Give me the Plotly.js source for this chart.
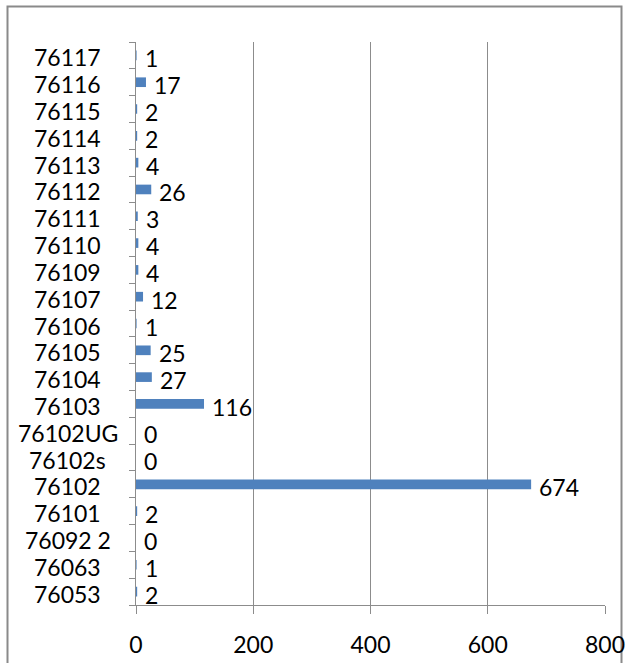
<!DOCTYPE html>
<html>
<head>
<meta charset="utf-8">
<script src="https://cdn.plot.ly/plotly-3.0.1.min.js"></script>
<style>html,body{margin:0;padding:0;background:#fff;}#chart{width:635px;height:663px;}</style>
</head>
<body>
<div id="chart"></div>
<script>
// Categories listed bottom to top (as on the axis)
var categories = ["76053","76063","76092 2","76101","76102","76102s","76102UG","76103","76104","76105","76106","76107","76109","76110","76111","76112","76113","76114","76115","76116","76117"];
var counts = [2,1,0,2,674,0,0,116,27,25,1,12,4,4,3,26,4,2,2,17,1];
var xTicks = [0,200,400,600,800];

var FONT = "Lato, 'Open Sans', sans-serif";
var FS = 23;
var gray = "#8c8c8c";

var trace = {
  type: "bar",
  orientation: "h",
  y: categories,
  x: counts,
  width: 0.36,
  marker: {color: "#4F81BD"},
  hoverinfo: "x+y"
};

var annotations = [];
categories.forEach(function(c, i){
  // on a category axis, annotation positions are category indices
  annotations.push({
    x: counts[i], y: i, xref: "x", yref: "y",
    text: String(counts[i]), showarrow: false,
    xanchor: "left", yanchor: "middle", xshift: 6, yshift: -3,
    font: {family: FONT, size: FS, color: "#000"}
  });
  annotations.push({
    x: -0.145, y: i, xref: "paper", yref: "y",
    text: c, showarrow: false,
    xanchor: "center", yanchor: "middle", yshift: -2,
    font: {family: FONT, size: FS, color: "#000"}
  });
});

var layout = {
  width: 635, height: 663,
  margin: {l: 136, r: 30, t: 42, b: 58, pad: 0},
  paper_bgcolor: "#fff", plot_bgcolor: "#fff",
  showlegend: false,
  font: {family: FONT, size: FS, color: "#000"},
  xaxis: {
    range: [0, 800], tickvals: xTicks, ticktext: xTicks.map(String),
    showgrid: true, gridcolor: gray, gridwidth: 1,
    zeroline: false, showline: true, linecolor: gray, linewidth: 1,
    ticks: "outside", ticklen: 8, tickcolor: gray,
    ticklabelstandoff: 11,
    tickfont: {family: FONT, size: FS, color: "#000"},
    fixedrange: true
  },
  yaxis: {
    type: "category", categoryorder: "array", categoryarray: categories,
    range: [-0.5, categories.length - 0.5],
    showgrid: false, zeroline: false,
    showline: true, linecolor: gray, linewidth: 1,
    ticks: "outside", ticklen: 6, tickcolor: gray, tickson: "boundaries",
    showticklabels: false,
    fixedrange: true
  },
  annotations: annotations,
  shapes: [{
    type: "rect", xref: "paper", yref: "paper",
    x0: (7.5 - 136) / 469, x1: (621.5 - 136) / 469,
    y0: (605 - 680) / 563, y1: 1 + (42 - 6.5) / 563,
    line: {color: "#8a8a8a", width: 2}, fillcolor: "rgba(0,0,0,0)", layer: "below"
  }]
};

Plotly.newPlot("chart", [trace], layout, {displayModeBar: false, staticPlot: true});
</script>
</body>
</html>
